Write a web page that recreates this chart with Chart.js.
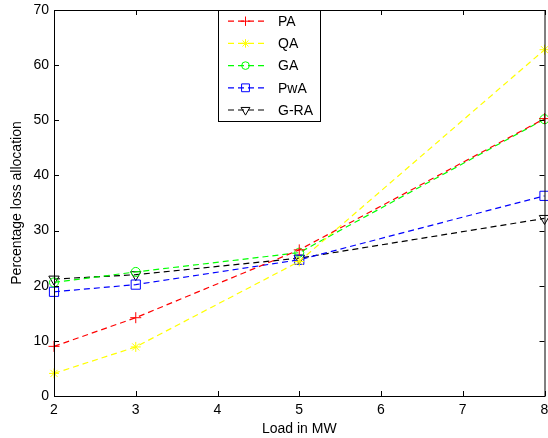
<!DOCTYPE html>
<html>
<head>
<meta charset="utf-8">
<script src="https://cdn.jsdelivr.net/npm/chart.js@4.4.0/dist/chart.umd.min.js"></script>
<style>
  html, body { margin: 0; padding: 0; background: #fff; overflow: hidden; }
  #wrap { width: 548px; height: 438px; overflow: hidden; }
</style>
</head>
<body>
<div id="wrap"><canvas id="lossChart" width="552" height="438"></canvas></div>
<script>
const loads = [2, 3, 5, 8];
const paVals = [9.0, 14.2, 26.5, 50.3];
const qaVals = [4.1, 8.9, 24.4, 62.8];
const gaVals = [20.6, 22.5, 26.0, 50.2];
const pwaVals = [18.9, 20.2, 24.7, 36.3];
const graVals = [21.2, 22.0, 25.0, 32.2];
const xTicks = [2, 3, 4, 5, 6, 7, 8];
const yTicks = [0, 10, 20, 30, 40, 50, 60, 70];

const FONT = '"Liberation Sans", Arial, Helvetica, sans-serif';

const series = [
    { label: 'PA', values: paVals, color: '#ff0000', style: 'cross', radius: 5.5, rot: 0 },
    { label: 'QA', values: qaVals, color: '#ffff00', style: 'star', radius: 5, rot: 0 },
    { label: 'GA', values: gaVals, color: '#00ff00', style: 'circle', radius: 4.5, rot: 0 },
    { label: 'PwA', values: pwaVals, color: '#0000ff', style: 'rect', radius: 6.5, rot: 0 },
    { label: 'G-RA', values: graVals, color: '#000000', style: 'triangle', radius: 6, rot: 180 }
];

function marker(ctx, s, x, y) {
    if (Chart.helpers && Chart.helpers.drawPoint) {
        ctx.save();
        ctx.strokeStyle = s.color;
        ctx.fillStyle = 'rgba(0,0,0,0)';
        ctx.lineWidth = 1;
        Chart.helpers.drawPoint(ctx, { pointStyle: s.style, radius: s.radius, rotation: s.rot, borderWidth: 1 }, x, y);
        ctx.restore();
    }
}

// matlab style box: inward ticks on all four sides + legend box
const frame = {
    id: 'frame',
    afterDraw(chart) {
        const { ctx, chartArea: a, scales } = chart;
        ctx.save();
        ctx.strokeStyle = '#000';
        ctx.lineWidth = 1;
        ctx.strokeRect(a.left + 0.5, a.top + 0.5, a.right - a.left, a.bottom - a.top);
        ctx.beginPath();
        xTicks.forEach(v => {
            const px = Math.round(scales.x.getPixelForValue(v)) + 0.5;
            ctx.moveTo(px, a.bottom); ctx.lineTo(px, a.bottom - 5);
            ctx.moveTo(px, a.top); ctx.lineTo(px, a.top + 5);
        });
        yTicks.forEach(v => {
            const py = Math.round(scales.y.getPixelForValue(v)) + 0.5;
            ctx.moveTo(a.left, py); ctx.lineTo(a.left + 5, py);
            ctx.moveTo(a.right, py); ctx.lineTo(a.right - 5, py);
        });
        ctx.stroke();

        // legend
        const lx = 218, ly = 10, lw = 102, lh = 111;
        ctx.fillStyle = '#fff';
        ctx.fillRect(lx, ly, lw, lh);
        ctx.strokeRect(lx + 0.5, ly + 0.5, lw, lh);
        ctx.font = '14px ' + FONT;
        ctx.textBaseline = 'middle';
        series.forEach((s, i) => {
            const y = ly + 11.2 + i * 22.2;
            ctx.strokeStyle = s.color;
            ctx.lineWidth = 1.2;
            ctx.setLineDash([6, 4]);
            ctx.beginPath();
            ctx.moveTo(228, y);
            ctx.lineTo(264, y);
            ctx.stroke();
            ctx.setLineDash([]);
            marker(ctx, Object.assign({}, s, { radius: s.radius * 0.85 }), 245.5, y);
            ctx.fillStyle = '#000';
            ctx.fillText(s.label, 278, y + 1);
        });
        ctx.restore();
    }
};

new Chart(document.getElementById('lossChart'), {
    type: 'line',
    data: {
        datasets: series.map(s => ({
            label: s.label,
            data: loads.map((x, i) => ({ x: x, y: s.values[i] })),
            borderColor: s.color,
            backgroundColor: 'rgba(0,0,0,0)',
            borderWidth: 1.2,
            borderDash: [6, 4],
            pointStyle: s.style,
            pointRadius: s.radius,
            pointRotation: s.rot,
            pointBorderColor: s.color,
            pointBackgroundColor: 'rgba(0,0,0,0)',
            pointBorderWidth: 1,
            tension: 0,
            clip: false
        }))
    },
    options: {
        responsive: false,
        animation: false,
        layout: { padding: { top: 10, right: 0, left: 0, bottom: 0 } },
        plugins: {
            legend: { display: false },
            tooltip: { enabled: false }
        },
        scales: {
            x: {
                type: 'linear',
                min: 2,
                max: 8,
                grid: { display: false, drawTicks: false },
                border: { display: false },
                afterFit: function(scale) {
                    scale.height = 42;
                    scale.paddingRight = 0;
                    scale.paddingLeft = 0;
                },
                ticks: {
                    stepSize: 1,
                    padding: 6,
                    color: '#000',
                    font: { family: FONT, size: 14 }
                },
                title: {
                    display: true,
                    text: 'Load in MW',
                    color: '#000',
                    font: { family: FONT, size: 14 },
                    padding: { top: 0, bottom: 0 }
                }
            },
            y: {
                min: 0,
                max: 70,
                grid: { display: false, drawTicks: false },
                border: { display: false },
                afterFit: function(scale) {
                    scale.width = 54;
                    scale.paddingTop = 0;
                    scale.paddingBottom = 0;
                },
                ticks: {
                    stepSize: 10,
                    padding: 5,
                    color: '#000',
                    font: { family: FONT, size: 14 }
                },
                title: {
                    display: true,
                    text: 'Percentage loss allocation',
                    color: '#000',
                    font: { family: FONT, size: 14 },
                    padding: { top: 9, bottom: 0 }
                }
            }
        }
    },
    plugins: [frame]
});
</script>
</body>
</html>
